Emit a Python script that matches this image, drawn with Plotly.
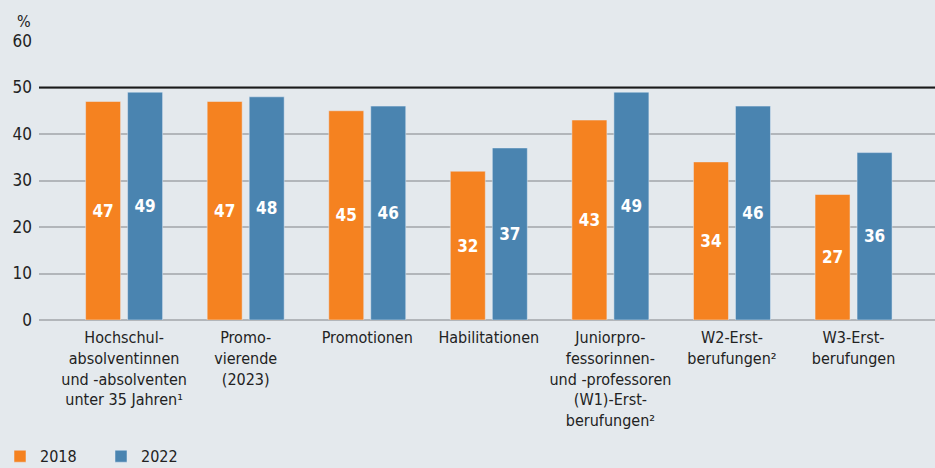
import plotly.graph_objects as go

categories = [
    "Hochschul-<br>absolventinnen<br>und -absolventen<br>unter 35 Jahren¹",
    "Promo-<br>vierende<br>(2023)",
    "Promotionen",
    "Habilitationen",
    "Juniorpro-<br>fessorinnen-<br>und -professoren<br>(W1)-Erst-<br>berufungen²",
    "W2-Erst-<br>berufungen²",
    "W3-Erst-<br>berufungen",
]
values_2018 = [47, 47, 45, 32, 43, 34, 27]
values_2022 = [49, 48, 46, 37, 49, 46, 36]
y_ticks = [0, 10, 20, 30, 40, 50, 60]

FONT = "DejaVu Sans Condensed, Liberation Sans Narrow, sans-serif"
BG = "#e4e9ed"
ORANGE = "#f58220"
BLUE = "#4a84b0"
TXT = "#222222"

x = list(range(len(categories)))

fig = go.Figure()
fig.add_trace(go.Bar(
    x=x, y=values_2018, name="2018", marker_color=ORANGE,
    text=[str(v) for v in values_2018], textposition="inside",
    insidetextanchor="middle", textangle=0,
    textfont=dict(color="white", size=17, family=FONT, weight="bold"),
))
fig.add_trace(go.Bar(
    x=x, y=values_2022, name="2022", marker_color=BLUE,
    text=[str(v) for v in values_2022], textposition="inside",
    insidetextanchor="middle", textangle=0,
    textfont=dict(color="white", size=17, family=FONT, weight="bold"),
))

fig.add_shape(type="line", xref="paper", yref="y", x0=0, x1=1, y0=50, y1=50,
              line=dict(color="#1a1a1a", width=2), layer="above")

fig.add_annotation(text="%", xref="paper", yref="paper", x=0, y=1,
                   xanchor="right", yanchor="bottom", xshift=-6, yshift=8,
                   showarrow=False, font=dict(size=16, color=TXT, family=FONT))

fig.update_layout(
    width=935, height=468,
    paper_bgcolor=BG, plot_bgcolor=BG,
    margin=dict(l=39, r=0, t=41, b=148),
    barmode="group", bargap=0.309, bargroupgap=0.1667,
    font=dict(family=FONT, size=16, color=TXT),
    showlegend=True,
    legend=dict(orientation="h", xref="container", yref="container",
                x=-0.008, xanchor="left", y=0.025, yanchor="middle",
                font=dict(size=16, color=TXT, family=FONT),
                itemwidth=30, entrywidth=56, entrywidthmode="pixels",
                bgcolor="rgba(0,0,0,0)"),
)
fig.update_xaxes(
    tickmode="array", tickvals=x, ticktext=categories,
    range=[-0.70, 6.67], showgrid=False, zeroline=False, showline=False,
    ticklabelstandoff=6,
    tickfont=dict(size=16, color=TXT, family=FONT), fixedrange=True,
)
fig.update_yaxes(
    range=[0, 60], tickmode="array", tickvals=y_ticks,
    showgrid=True, gridcolor="#b2b6ba", gridwidth=1.5,
    zeroline=True, zerolinecolor="#b2b6ba", zerolinewidth=1.5,
    showline=False, ticklabelstandoff=6,
    tickfont=dict(size=17, color=TXT, family=FONT),
)

fig.write_html("out.html", config={"displayModeBar": False},
               post_script="document.body.style.margin='0';document.body.style.overflow='hidden';")
